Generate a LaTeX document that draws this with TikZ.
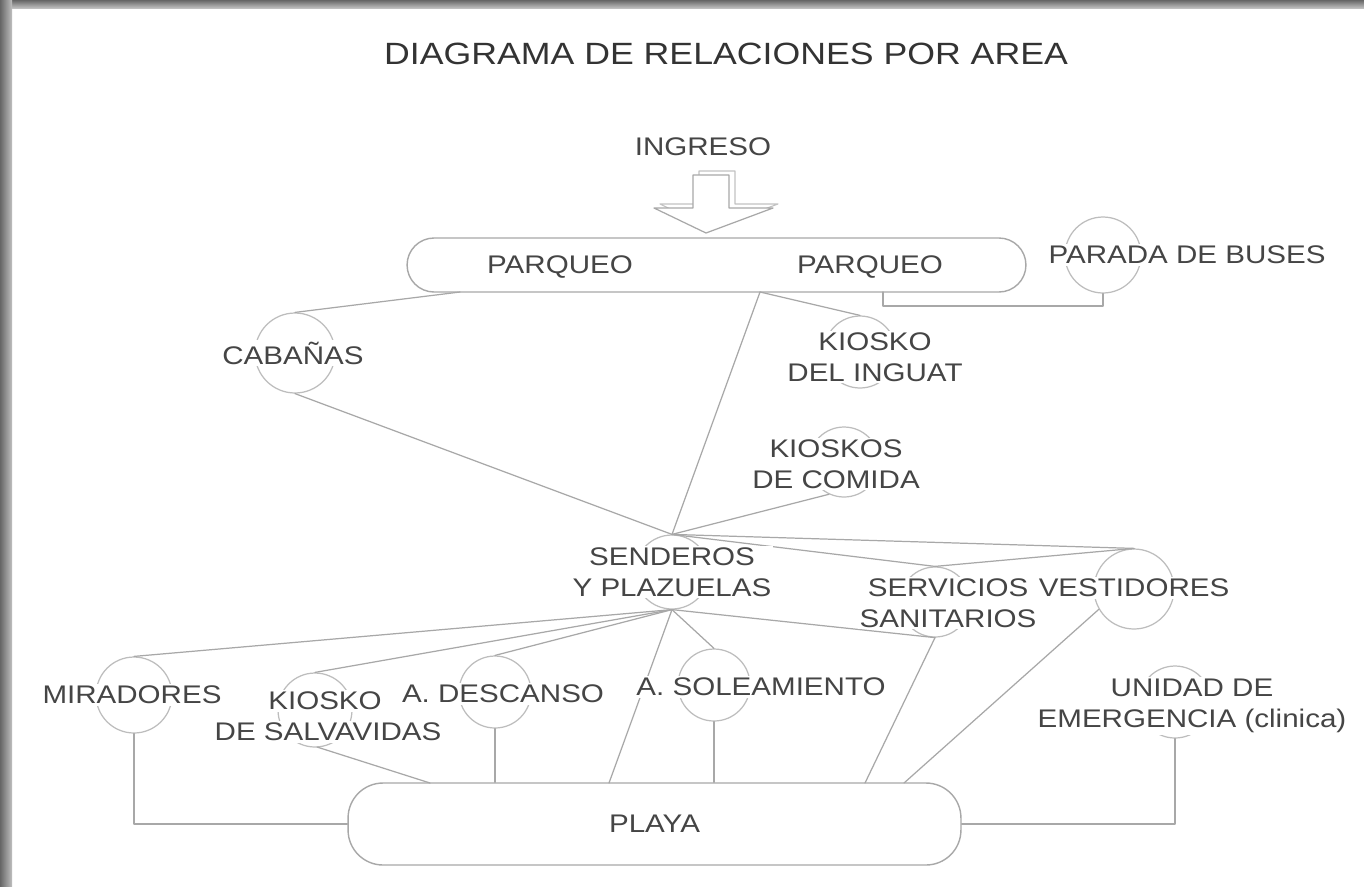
\documentclass[tikz,border=0pt]{standalone}
\usepackage{fontspec}
\setmainfont{Liberation Sans}[FakeStretch=1.16]
\definecolor{linegray}{gray}{0.66}
\definecolor{ringgray}{gray}{0.74}
\definecolor{inkgray}{gray}{0.27}
\tikzset{
  area/.style={circle,draw=ringgray,line width=0.7pt,minimum size=#1,inner sep=0pt},
  lbl/.style={text=inkgray,font=\fontsize{14.5}{17.6}\selectfont,align=center,fill=white,inner sep=1pt},
  link/.style={draw=linegray,line width=0.7pt},
  zone/.style={draw=linegray,line width=0.8pt,rounded corners=#1,text=inkgray,font=\fontsize{14.5}{17.6}\selectfont},
}
\begin{document}
\begin{tikzpicture}[x=0.02cm,y=-0.02cm,line cap=round,line join=round]
  \useasboundingbox (0,0) rectangle (1364,886);
  % frame shadow
  \fill[white] (0,0) rectangle (1364,886);
  \shade[top color=black!60,bottom color=black!25] (0,0) rectangle (1364,8);
  \shade[left color=black!60,right color=black!25] (0,0) rectangle (12,886);
  \node[font=\fontsize{17.5}{20}\selectfont,text=black!80] (title) at (726,54) {DIAGRAMA DE RELACIONES POR AREA};

  % ingreso
  \node[lbl] (ingreso) at (703,147) {INGRESO};
  \draw[linegray!70,line width=0.6pt] (699,171) -- (699,204) -- (660,204) -- (711,229) -- (778,204) -- (735,204) -- (735,171) -- cycle;
  \draw[linegray,line width=0.7pt,fill=white] (693,175) -- (693,208) -- (654,208) -- (706,233) -- (773,208) -- (729,208) -- (729,175) -- cycle;

  % areas
  \node[zone=0.54cm,minimum width=12.38cm,minimum height=1.08cm] (park) at (716.5,265) {};
  \node[zone=0.7cm,minimum width=12.26cm,minimum height=1.64cm] (playa) at (654.5,824) {PLAYA};
  \node[area=1.52cm] (bus) at (1103,255) {};
  \node[area=1.6cm] (cab) at (295,353) {};
  \node[area=1.44cm] (ingu) at (860,352) {};
  \node[area=1.4cm] (food) at (844,462) {};
  \node[area=1.48cm] (send) at (672,572) {};
  \node[area=1.4cm] (serv) at (935,602) {};
  \node[area=1.6cm] (vest) at (1134,589) {};
  \node[area=1.52cm] (mir) at (134,695) {};
  \node[area=1.48cm] (kio) at (315,710) {};
  \node[area=1.44cm] (desc) at (495,692) {};
  \node[area=1.44cm] (sol) at (714,685) {};
  \node[area=1.44cm] (emer) at (1175,702) {};

  \coordinate (pk-w) at (460,292);
  \coordinate (pk-m) at (760,292);
  \coordinate (pk-e) at (883,292);
  \coordinate (kio-b) at (317,747);
  \coordinate (pl-a) at (430,783);
  \coordinate (pl-c) at (609,783);
  \coordinate (pl-d) at (865,783);
  \coordinate (pl-e) at (904,783);

  % connectors
  \draw[link] (pk-w) -- (cab.north);
  \draw[link] (pk-m) -- (ingu.north);
  \draw[link] (pk-m) -- (send.north);
  \draw[link] (pk-e) -- ++(0,14) -| (bus.south);
  \draw[link] (cab.south) -- (send.north);
  \draw[link] (food.-115) -- (send.north);
  \draw[link] (send.north) -- (serv.north);
  \draw[link] (send.north) -- (vest.north);
  \draw[link] (serv.north) -- (vest.north);
  \draw[link] (send.south) -- (mir.north);
  \draw[link] (send.south) -- (kio.north);
  \draw[link] (send.south) -- (desc.north);
  \draw[link] (send.south) -- (pl-c);
  \draw[link] (send.south) -- (sol.north);
  \draw[link] (send.south) -- (serv.south);
  \draw[link] (mir.south) |- (playa.west);
  \draw[link] (kio-b) -- (pl-a);
  \draw[link] (desc.south) -- (desc.south |- playa.north);
  \draw[link] (sol.south) -- (sol.south |- playa.north);
  \draw[link] (serv.south) -- (pl-d);
  \draw[link] (vest.-150) -- (pl-e);
  \draw[link] (emer.south) |- (playa.east);

  % labels
  \node[lbl,fill=none] (park-a) at (560,267) {PARQUEO};
  \node[lbl,fill=none] (park-b) at (870,267) {PARQUEO};
  \node[lbl] (bus-t) at (1187,255) {PARADA DE BUSES};
  \node[lbl] (cab-t) at (293,353) {CABAÑAS};
  \node[lbl] (ingu-t) at (875,357) {KIOSKO\\DEL INGUAT};
  \node[lbl] (food-t) at (836,464) {KIOSKOS\\DE COMIDA};
  \node[lbl] (send-t) at (672,572) {SENDEROS\\Y PLAZUELAS};
  \node[lbl] (serv-t) at (948,603) {SERVICIOS\\SANITARIOS};
  \node[lbl] (vest-t) at (1134,588) {VESTIDORES};
  \node[lbl] (kio-t) at (325,701) {KIOSKO};
  \node[lbl] (kio-u) at (328,732) {DE SALVAVIDAS};
  \node[lbl] (mir-t) at (132,695) {MIRADORES};
  \node[lbl] (desc-t) at (503,694) {A. DESCANSO};
  \node[lbl] (sol-t) at (761,687) {A. SOLEAMIENTO};
  \node[lbl] (emer-t) at (1192,706) {UNIDAD DE\\EMERGENCIA (clinica)};
\end{tikzpicture}
\end{document}
